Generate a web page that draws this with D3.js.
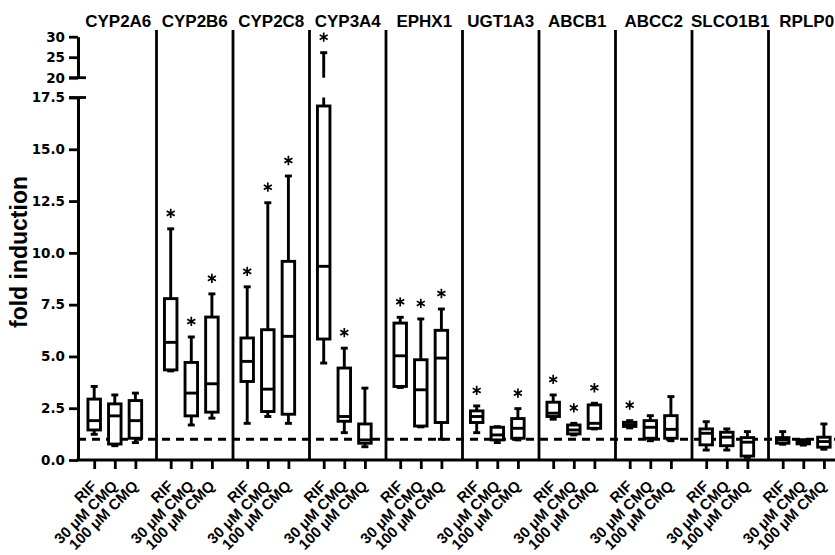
<!DOCTYPE html>
<html>
<head>
<meta charset="utf-8">
<script src="https://cdn.jsdelivr.net/npm/d3@7"></script>
<style>
  body { margin: 0; background: #fff; }
</style>
</head>
<body>
<svg id="chart" width="835" height="555"></svg>
<script>
// genes (panels) and treatments (boxes inside each panel)
var genes = ["CYP2A6", "CYP2B6", "CYP2C8", "CYP3A4", "EPHX1", "UGT1A3", "ABCB1", "ABCC2", "SLCO1B1", "RPLP0"];
var treatments = ["RIF", "30 μM CMQ", "100 μM CMQ"];

// box plot statistics, one row per gene, one value per treatment
var whiskerLow = [
  [1.24, 0.69, 0.84], [4.30, 1.69, 2.02], [1.77, 2.10, 1.77], [4.68, 1.32, 0.64], [3.50, 1.60, 1.00],
  [1.32, 0.84, 0.97], [1.97, 1.21, 1.50], [1.55, 0.93, 0.93], [0.48, 0.48, 0.13], [0.76, 0.72, 0.52]
];
var quart1 = [
  [1.45, 0.77, 1.05], [4.35, 2.13, 2.31], [3.79, 2.34, 2.21], [5.84, 1.87, 0.81], [3.55, 1.64, 1.81],
  [1.81, 0.97, 1.05], [2.10, 1.26, 1.53], [1.62, 1.05, 1.05], [0.73, 0.69, 0.19], [0.81, 0.78, 0.62]
];
var median = [
  [1.90, 2.13, 1.90], [5.68, 3.23, 3.68], [4.76, 3.42, 5.97], [9.35, 2.10, 0.97], [5.03, 3.39, 4.92],
  [2.10, 1.21, 1.53], [2.26, 1.45, 1.77], [1.70, 1.58, 1.48], [1.29, 1.10, 0.86], [0.97, 0.85, 0.89]
];
var quart3 = [
  [2.94, 2.71, 2.87], [7.79, 4.71, 6.90], [5.89, 6.29, 9.59], [17.09, 4.44, 1.74], [6.61, 4.84, 6.26],
  [2.37, 1.58, 2.00], [2.79, 1.69, 2.66], [1.82, 1.90, 2.14], [1.50, 1.34, 1.08], [1.08, 0.93, 1.10]
];
var whiskerHigh = [
  [3.55, 3.14, 3.23], [11.16, 5.94, 8.02], [8.36, 12.42, 13.71], [26.1, 5.40, 3.47], [6.89, 6.81, 7.29],
  [2.61, 1.61, 2.48], [3.14, 1.77, 2.74], [1.90, 2.14, 3.06], [1.85, 1.50, 1.37], [1.37, 0.98, 1.74]
];
// asterisk = significant
var significant = [
  [0, 0, 0], [1, 1, 1], [1, 1, 1], [1, 1, 0], [1, 1, 1],
  [1, 0, 1], [1, 1, 1], [1, 0, 0], [0, 0, 0], [0, 0, 0]
];

var lowTicks = [0, 2.5, 5, 7.5, 10, 12.5, 15, 17.5];
var highTicks = [20, 25, 30];
var baseline = 1;

function init(){

  var svg = d3.select("#chart");
  var axisX = 78, axisY = 460;
  var font = "'Liberation Sans', Arial, sans-serif";

  // broken y axis: two linear scales
  var yLow = d3.scaleLinear().domain([0, 17.5]).range([axisY, 97.5]);
  var yUp = d3.scaleLinear().domain([20, 30]).range([77.7, 36.7]);
  function yv(v) { return v <= 17.5 ? yLow(v) : yUp(v); }

  var xGene = d3.scaleBand().domain(genes).range([80, 845]);
  var xTreat = d3.scalePoint().domain(treatments).range([14.2, 55.4]);

  var keys = [];
  genes.forEach(function(g){ treatments.forEach(function(t){ keys.push(g + "|" + t); }); });
  var xTick = d3.scaleOrdinal()
    .domain(keys)
    .range(keys.map(function(k){ var p = k.split("|"); return xGene(p[0]) + xTreat(p[1]); }));

  var boxes = [];
  genes.forEach(function(g, i){
    treatments.forEach(function(t, j){
      boxes.push({gene: g, treat: t, lo: whiskerLow[i][j], q1: quart1[i][j], med: median[i][j],
                  q3: quart3[i][j], hi: whiskerHigh[i][j], sig: significant[i][j]});
    });
  });

  //panel separators
  svg.append("g").selectAll("line")
    .data(genes.slice(1))
    .enter().append("line")
      .attr("x1", function(d){ return xGene(d); })
      .attr("x2", function(d){ return xGene(d); })
      .attr("y1", 30)
      .attr("y2", axisY)
      .attr("stroke", "#000")
      .attr("stroke-width", 2.8);

  //gene titles
  svg.append("g").selectAll("text")
    .data(genes)
    .enter().append("text")
      .attr("x", function(d){ return xGene(d) + xGene.bandwidth() / 2; })
      .attr("y", 26.5)
      .attr("text-anchor", "middle")
      .style("font", "bold 17px " + font)
      .text(function(d){ return d; });

  //dashed line at 1
  svg.append("line")
    .attr("x1", axisX)
    .attr("x2", 835)
    .attr("y1", yLow(baseline))
    .attr("y2", yLow(baseline))
    .attr("stroke", "#000")
    .attr("stroke-width", 3)
    .attr("stroke-dasharray", "8,6");

  // boxes
  var bw = 12.5, cap = 7;
  var bx = svg.append("g").selectAll("g")
    .data(boxes)
    .enter().append("g")
      .attr("transform", function(d){ return "translate(" + xTick(d.gene + "|" + d.treat) + ",0)"; })
      .attr("stroke", "#000")
      .attr("stroke-width", 2.9)
      .attr("fill", "none");

  // lower whisker
  bx.append("line")
    .attr("y1", function(d){ return yv(d.q1); })
    .attr("y2", function(d){ return yv(d.lo); });
  bx.append("line")
    .attr("x1", -cap / 2).attr("x2", cap / 2)
    .attr("y1", function(d){ return yv(d.lo); })
    .attr("y2", function(d){ return yv(d.lo); });

  // upper whisker (split at the axis break)
  bx.append("line")
    .attr("y1", function(d){ return yv(d.q3); })
    .attr("y2", function(d){ return d.hi > 17.5 ? yLow(17.5) : yv(d.hi); });
  bx.filter(function(d){ return d.hi > 17.5; })
    .append("line")
      .attr("y1", yUp(20))
      .attr("y2", function(d){ return yUp(d.hi); });
  bx.append("line")
    .attr("x1", -cap / 2).attr("x2", cap / 2)
    .attr("y1", function(d){ return yv(d.hi); })
    .attr("y2", function(d){ return yv(d.hi); });

  bx.append("rect")
    .attr("x", -bw / 2)
    .attr("width", bw)
    .attr("y", function(d){ return yv(d.q3); })
    .attr("height", function(d){ return yv(d.q1) - yv(d.q3); })
    .attr("fill", "#fff");

  bx.append("line")
    .attr("x1", -bw / 2).attr("x2", bw / 2)
    .attr("y1", function(d){ return yv(d.med); })
    .attr("y2", function(d){ return yv(d.med); });

  // asterisks above significant boxes
  var star = d3.symbol().type(d3.symbolAsterisk || d3.symbolCross).size(60);
  svg.append("g").selectAll("path")
    .data(boxes.filter(function(d){ return d.sig; }))
    .enter().append("path")
      .attr("transform", function(d){ return "translate(" + xTick(d.gene + "|" + d.treat) + "," + (yv(d.hi) - 15.5) + ")"; })
      .attr("d", star)
      .attr("fill", "none")
      .attr("stroke", "#000")
      .attr("stroke-width", 1.7);

  //lower y axis
  var gLow = svg.append("g")
    .attr("transform", "translate(" + axisX + ",0)")
    .call(d3.axisLeft(yLow).tickValues(lowTicks).tickFormat(d3.format(".1f")).tickSize(9).tickSizeOuter(0).tickPadding(4));

  //upper y axis
  var gUp = svg.append("g")
    .attr("transform", "translate(" + axisX + ",0)")
    .call(d3.axisLeft(yUp).tickValues(highTicks).tickFormat(d3.format("d")).tickSize(9).tickSizeOuter(0).tickPadding(4));

  [gLow, gUp].forEach(function(g){
    g.select(".domain").attr("stroke-width", 3);
    g.selectAll(".tick line").attr("stroke-width", 2.8);
    g.selectAll(".tick text")
      .attr("fill", "#000")
      .style("font", "bold 13.5px 'DejaVu Sans', sans-serif");
  });

  //break marks
  svg.append("g").selectAll("line")
    .data([yLow(17.5), yUp(20)])
    .enter().append("line")
      .attr("x1", axisX - 9)
      .attr("x2", axisX + 8)
      .attr("y1", function(d){ return d; })
      .attr("y2", function(d){ return d; })
      .attr("stroke", "#000")
      .attr("stroke-width", 2.8);

  //x axis
  svg.append("line")
    .attr("x1", axisX - 1.5)
    .attr("x2", 835)
    .attr("y1", axisY)
    .attr("y2", axisY)
    .attr("stroke", "#000")
    .attr("stroke-width", 3);

  var gx = svg.append("g")
    .attr("transform", "translate(0," + axisY + ")")
    .call(d3.axisBottom(xTick).tickSize(9).tickFormat(function(d){ return d.split("|")[1]; }));
  gx.select(".domain").remove();
  gx.selectAll(".tick line").attr("stroke-width", 2.8);
  gx.selectAll(".tick text")
    .attr("fill", "#000")
    .attr("text-anchor", "end")
    .attr("x", 3)
    .attr("y", 27)
    .attr("dy", null)
    .attr("transform", "rotate(-45,3,27)")
    .style("font", "bold 15px " + font);

  //y axis label
  svg.append("text")
    .attr("transform", "translate(27,252) rotate(-90)")
    .attr("text-anchor", "middle")
    .style("font", "bold 23px " + font)
    .text("fold induction");
}

window.onload = init;
</script>
</body>
</html>
